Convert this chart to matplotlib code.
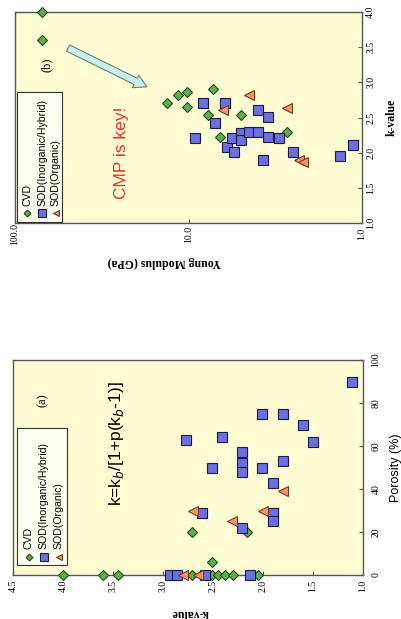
#!/usr/bin/env python3
# -*- coding: utf-8 -*-
"""
Low-k dielectrics: k-value vs porosity (a) and Young modulus vs k-value (b),
drawn turned a quarter turn (landscape page rotated onto a portrait sheet).
"""

import matplotlib
matplotlib.use('Agg')
import matplotlib.pyplot as plt
from matplotlib.patches import Rectangle

SERIF = 'Liberation Serif'
SANS = 'Liberation Sans'
PANEL_BG = '#fdfcd3'
SPINE = '#555555'

# panel (a): k-value / porosity (%)
CVD_A_K = [4.0, 3.6, 3.45, 2.71, 2.51, 2.51, 2.45, 2.38, 2.30, 2.05, 2.71, 2.16]
CVD_A_P = [0, 0, 0, 0, 0, 6, 0, 0, 0, 0, 20, 20]
HYB_A_K = [2.93, 2.86, 2.58, 2.13, 2.77, 2.41, 2.51, 2.61, 2.21, 2.21, 2.21,
           2.01, 2.01, 1.80, 1.60, 1.50, 1.80, 1.90, 1.90, 1.90, 2.21, 1.11]
HYB_A_P = [0, 0, 0, 0, 63, 64, 50, 29, 57, 52, 48,
           50, 75, 75, 70, 62, 53, 43, 29, 25, 22, 90]
ORG_A_K = [2.80, 2.65, 2.70, 2.31, 2.00, 1.80]
ORG_A_P = [0, 0, 30, 25, 30, 39]

# panel (b): Young modulus (GPa) / k-value
CVD_B_E = [70, 70, 13.3, 11.5, 10.2, 10.2, 7.2, 7.7, 5.0, 6.6, 2.7]
CVD_B_K = [4.0, 3.6, 2.71, 2.82, 2.86, 2.65, 2.91, 2.54, 2.54, 2.22, 2.30]
HYB_B_E = [8.2, 6.2, 7.0, 4.0, 3.5, 9.2, 6.0, 5.5, 5.6, 5.0, 5.0,
           4.5, 4.0, 3.5, 3.0, 3.7, 2.5, 1.34, 1.13]
HYB_B_K = [2.71, 2.71, 2.42, 2.61, 2.51, 2.21, 2.08, 2.01, 2.21, 2.28, 2.18,
           2.30, 2.30, 2.22, 2.21, 1.90, 2.01, 1.95, 2.11]
ORG_B_E = [6.3, 4.5, 2.7, 2.3, 2.2]
ORG_B_K = [2.61, 2.82, 2.64, 1.90, 1.87]

K_TICKS_A = [4.5, 4.0, 3.5, 3.0, 2.5, 2.0, 1.5, 1.0]
P_TICKS = [0, 20, 40, 60, 80, 100]
K_TICKS_B = [1.0, 1.5, 2.0, 2.5, 3.0, 3.5, 4.0]
E_TICKS = [100.0, 10.0, 1.0]

SERIES = ['cvd', 'hyb', 'org']
LABELS = ['CVD', 'SOD(Inorganic/Hybrid)', 'SOD(Organic)']
STYLE = {
    'cvd': dict(marker='D', ms=5, mfc='#5fae4a', mec='#1f4a1a', mew=0.8),
    'hyb': dict(marker='s', ms=7.3, mfc='#6b6fe0', mec='#1b1b48', mew=0.8),
    'org': dict(marker='<', ms=7, mfc='#f59272', mec='#7a3a1a', mew=0.8),
}


def style_axes(ax):
    ax.set_facecolor(PANEL_BG)
    for sp in ax.spines.values():
        sp.set_color(SPINE)
        sp.set_linewidth(1.0)
    ax.yaxis.tick_right()
    ax.tick_params(direction='in', length=3, color=SPINE, labelsize=7,
                   labelrotation=90)
    ax.tick_params(axis='x', pad=8)
    ax.tick_params(axis='y', pad=6)
    for lab in ax.get_xticklabels() + ax.get_yticklabels():
        lab.set_family(SERIF)
        lab.set_va('center')
    ax.minorticks_off()


def draw_legend(ax, box, cols, marker_y, text_y):
    x0, y0, x1, y1 = box
    ax.add_patch(Rectangle((x0, y0), x1 - x0, y1 - y0, transform=ax.transAxes,
                           fc='#fffff2', ec='#333333', lw=0.8, zorder=4))
    for key, label, cx in zip(SERIES, LABELS, cols):
        st = dict(STYLE[key])
        st['ms'] = st['ms'] * 0.7
        ax.plot([cx], [marker_y], transform=ax.transAxes, ls='none',
                zorder=5, clip_on=False, **st)
        ax.text(cx, text_y, label, rotation=90, ha='center', va='bottom',
                transform=ax.transAxes, fontsize=7.6, family=SANS, zorder=5)


def make_porosity_panel(fig):
    ax = fig.add_axes([13 / 401, 1 - 575 / 619, 350 / 401, 215 / 619])
    data = [(CVD_A_K, CVD_A_P), (HYB_A_K, HYB_A_P), (ORG_A_K, ORG_A_P)]
    for key, (k, p) in zip(SERIES, data):
        ax.plot(k, p, ls='none', clip_on=False, zorder=3, **STYLE[key])
    ax.set_xlim(4.5, 1.0)
    ax.set_ylim(0, 100)
    ax.set_xticks(K_TICKS_A)
    ax.set_xticklabels(['%.1f' % v for v in K_TICKS_A])
    ax.set_yticks(P_TICKS)
    style_axes(ax)

    ax.text(0.506, -0.177, 'k-value', rotation=180, ha='center', va='center',
            transform=ax.transAxes, fontsize=8.5, family=SERIF, weight='bold')
    ax.text(1.094, 0.5, 'Porosity (%)', rotation=90, ha='center', va='center',
            transform=ax.transAxes, fontsize=9, family=SANS)
    ax.text(0.086, 0.814, '(a)', rotation=90, ha='center', va='center',
            transform=ax.transAxes, fontsize=9, family=SERIF)
    ax.text(0.297, 0.609, r'k=k$_b$/[1+p(k$_b$-1)]', rotation=90,
            ha='center', va='center', transform=ax.transAxes, fontsize=12.5,
            family=SANS)
    draw_legend(ax, (0.011, 0.047, 0.154, 0.684), [0.045, 0.088, 0.131],
                0.084, 0.12)


def make_modulus_panel(fig):
    ax = fig.add_axes([15 / 401, 1 - 223 / 619, 347 / 401, 211 / 619])
    data = [(CVD_B_E, CVD_B_K), (HYB_B_E, HYB_B_K), (ORG_B_E, ORG_B_K)]
    for key, (e, k) in zip(SERIES, data):
        ax.plot(e, k, ls='none', clip_on=False, zorder=3, **STYLE[key])
    ax.set_xscale('log')
    ax.set_xlim(100, 1)
    ax.set_ylim(1.0, 4.0)
    ax.set_xticks(E_TICKS)
    ax.set_xticklabels(['%.1f' % v for v in E_TICKS])
    ax.set_yticks(K_TICKS_B)
    ax.set_yticklabels(['%.1f' % v for v in K_TICKS_B])
    style_axes(ax)
    ax.tick_params(axis='y', pad=3)

    ax.text(1.086, 0.5, 'k-value', rotation=90, ha='center', va='center',
            transform=ax.transAxes, fontsize=8.5, family=SERIF, weight='bold')
    ax.text(0.43, -0.185, 'Young Modulus (GPa)', rotation=180, ha='center',
            va='center', transform=ax.transAxes, fontsize=8.5, family=SERIF,
            weight='bold')
    ax.text(0.092, 0.749, '(b)', rotation=90, ha='center', va='center',
            transform=ax.transAxes, fontsize=9, family=SERIF)
    ax.text(0.308, 0.332, 'CMP is key!', rotation=90, ha='center',
            va='center', transform=ax.transAxes, fontsize=12.5, family=SANS,
            color='#e8332b')
    ax.annotate('', xy=(0.380, 0.645), xytext=(0.153, 0.829),
                xycoords='axes fraction', textcoords='axes fraction',
                arrowprops=dict(arrowstyle='simple,head_length=0.9,'
                                'head_width=1.0,tail_width=0.5',
                                fc='#c9efe6', ec='#6f8080', lw=0.8,
                                shrinkA=0, shrinkB=0))
    draw_legend(ax, (0.006, 0.005, 0.135, 0.62), [0.035, 0.078, 0.118],
                0.047, 0.082)


if __name__ == '__main__':
    fig = plt.figure(figsize=(4.01, 6.19), dpi=100)
    fig.patch.set_facecolor('white')
    make_modulus_panel(fig)
    make_porosity_panel(fig)
    fig.savefig('out.png', dpi=100)
